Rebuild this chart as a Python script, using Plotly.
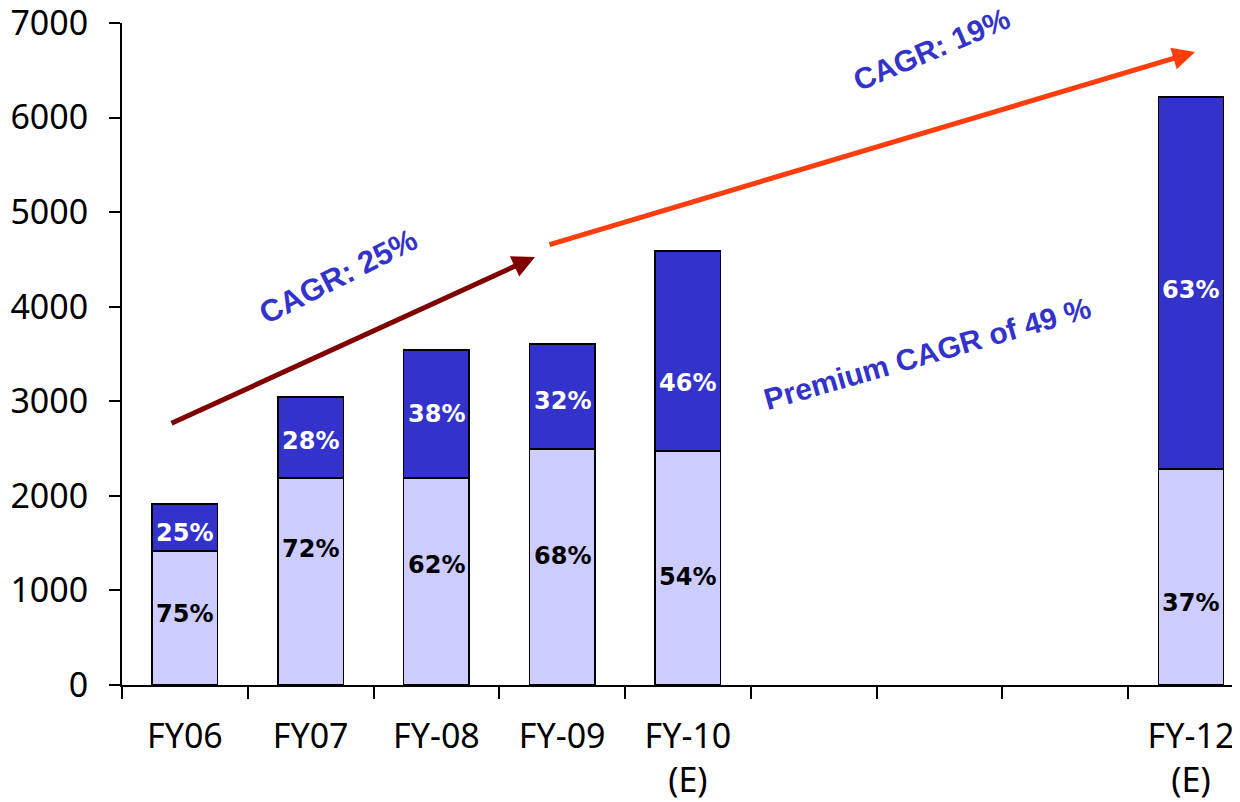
import plotly.graph_objects as go

categories = ["FY06", "FY07", "FY-08", "FY-09", "FY-10<br>(E)", " ", "  ", "   ", "FY-12<br>(E)"]
base_values = [1417, 2189, 2189, 2496, 2474, None, None, None, 2284]
premium_values = [497, 856, 1353, 1110, 2115, None, None, None, 3934]
base_labels = ["75%", "72%", "62%", "68%", "54%", None, None, None, "37%"]
premium_labels = ["25%", "28%", "38%", "32%", "46%", None, None, None, "63%"]
base_label_y = [751, 1438, 1269, 1364, 1142, None, None, None, 867]
premium_label_y = [1607, 2580, 2866, 3003, 3193, None, None, None, 4177]
y_ticks = [0, 1000, 2000, 3000, 4000, 5000, 6000, 7000]

# page body has an 8px margin; compensate so the plot lands where the reference has it
OFF = 8


def px_to_x(px):
    return (px - 122) / 125.75 - 0.5


def px_to_y(py):
    return (685 - py) / 662 * 7000


fig = go.Figure()
fig.add_trace(go.Bar(x=categories, y=base_values, width=0.52,
                     marker=dict(color="#CCCCFF", line=dict(color="black", width=1.5)),
                     hoverinfo="skip"))
fig.add_trace(go.Bar(x=categories, y=premium_values, width=0.52,
                     marker=dict(color="#3333CC", line=dict(color="black", width=1.5)),
                     hoverinfo="skip"))

annotations = []
for i, c in enumerate(categories):
    if base_labels[i]:
        annotations.append(dict(x=i, y=base_label_y[i], xref="x", yref="y", text=base_labels[i],
                                showarrow=False,
                                font=dict(family="DejaVu Sans", size=24, color="black", weight="bold")))
    if premium_labels[i]:
        annotations.append(dict(x=i, y=premium_label_y[i], xref="x", yref="y", text=premium_labels[i],
                                showarrow=False,
                                font=dict(family="DejaVu Sans", size=24, color="white", weight="bold")))

# arrows
annotations.append(dict(x=px_to_x(535), y=px_to_y(257), ax=px_to_x(170), ay=px_to_y(424),
                        xref="x", yref="y", axref="x", ayref="y",
                        showarrow=True, arrowhead=2, arrowsize=0.9, arrowwidth=5, arrowcolor="#800000", text=""))
annotations.append(dict(x=px_to_x(1195), y=px_to_y(52), ax=px_to_x(548), ay=px_to_y(245),
                        xref="x", yref="y", axref="x", ayref="y",
                        showarrow=True, arrowhead=2, arrowsize=0.9, arrowwidth=5, arrowcolor="#FF3D0D", text=""))

annotations.append(dict(x=px_to_x(338), y=px_to_y(276), xref="x", yref="y",
                        text="CAGR: 25%", showarrow=False, textangle=-27,
                        font=dict(family="Liberation Sans", size=31, color="#3333CC", weight="bold")))
annotations.append(dict(x=px_to_x(931), y=px_to_y(49), xref="x", yref="y",
                        text="CAGR: 19%", showarrow=False, textangle=-23,
                        font=dict(family="Liberation Sans", size=30, color="#3333CC", weight="bold")))
annotations.append(dict(x=px_to_x(927), y=px_to_y(353), xref="x", yref="y",
                        text="Premium CAGR of 49 %", showarrow=False, textangle=-16,
                        font=dict(family="Liberation Sans", size=30, color="#3333CC", weight="bold")))

fig.update_layout(
    barmode="stack", showlegend=False, width=1240, height=802,
    margin=dict(l=122 - OFF, r=OFF, t=23 - OFF, b=117 + OFF, autoexpand=False),
    plot_bgcolor="white", paper_bgcolor="white",
    annotations=annotations,
    font=dict(family="Noto Sans", size=34, color="black"),
)
fig.update_xaxes(type="category", categoryorder="array", categoryarray=categories,
                 range=[-0.5, 8.39], tickson="boundaries", ticks="outside", ticklen=12,
                 tickwidth=1.5, tickcolor="black", showline=True, linecolor="black", linewidth=2,
                 showgrid=False, automargin=False, ticklabelstandoff=20, ticklabeloverflow="allow",
                 tickfont=dict(family="Noto Sans", size=34))
fig.update_yaxes(range=[0, 7000], tickvals=y_ticks, ticks="outside", ticklen=11, tickwidth=1.5,
                 tickcolor="black", showline=True, linecolor="black", linewidth=2, showgrid=False,
                 zeroline=False, automargin=False, ticklabelstandoff=14, ticklabeloverflow="allow",
                 tickfont=dict(family="Noto Sans", size=34))

fig.write_html("out.html")
